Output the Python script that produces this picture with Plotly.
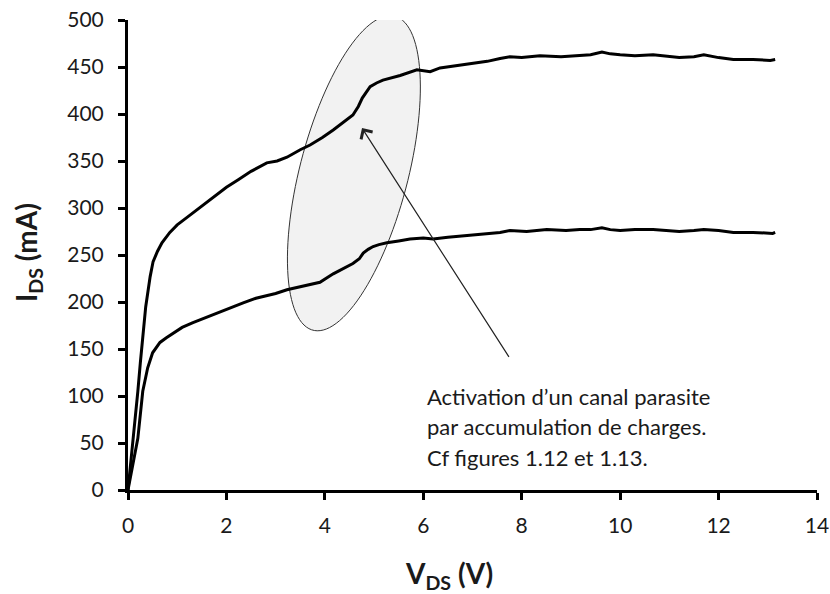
import numpy as np
import plotly.graph_objects as go

# ---- data ----
x_upper = [0, 0.06, 0.11, 0.16, 0.20, 0.25, 0.30, 0.36, 0.45, 0.51, 0.60, 0.69, 0.85, 1.0, 1.2, 1.52,
           1.87, 2.0, 2.24, 2.5, 2.82, 3.03, 3.23, 3.50, 3.70, 3.95, 4.17, 4.40, 4.57, 4.68, 4.76,
           4.92, 5.05, 5.18, 5.53, 5.87, 6.14, 6.34, 6.75, 7.15, 7.30, 7.56, 7.76, 8.0, 8.37, 8.8,
           9.18, 9.4, 9.63, 9.8, 10.0, 10.3, 10.67, 11.0, 11.2, 11.5, 11.7, 12.0, 12.3, 12.7,
           13.05, 13.15]
y_upper = [0, 30, 55, 80, 105, 135, 165, 195, 227, 243, 254, 263, 274, 282, 290, 303,
           317, 322, 330, 339, 348, 350, 354, 362, 367, 375, 383, 392, 399, 408, 417,
           429, 433, 436, 441, 447, 445, 449, 452, 455, 456, 459, 461, 460, 462, 461,
           462, 463, 466, 464, 463, 462, 463, 461, 460, 461, 463, 460, 458, 458,
           457, 458]

x_lower = [0, 0.10, 0.20, 0.30, 0.40, 0.50, 0.65, 0.78, 0.92, 1.1, 1.32, 1.6, 1.87, 2.1, 2.34,
           2.6, 2.82, 3.0, 3.23, 3.50, 3.90, 4.17, 4.40, 4.57, 4.70, 4.78, 4.88, 4.98, 5.1,
           5.26, 5.5, 5.73, 6.0, 6.20, 6.5, 6.75, 7.15, 7.56, 7.76, 8.1, 8.51, 8.9, 9.18, 9.4,
           9.63, 9.8, 10.0, 10.3, 10.67, 11.0, 11.2, 11.5, 11.7, 12.0, 12.3, 12.7, 13.1, 13.15]
y_lower = [0, 28, 55, 105, 130, 146, 157, 162, 167, 173, 178, 184, 189, 194, 199,
           204, 207, 209, 213, 216, 221, 230, 236, 241, 246, 252, 256, 259, 261,
           263, 265, 267, 268, 267, 269, 270, 272, 274, 276, 275, 277, 276, 277, 277,
           279, 277, 276, 277, 277, 276, 275, 276, 277, 276, 274, 274, 273, 274]

x_ticks = [0, 2, 4, 6, 8, 10, 12, 14]
y_ticks = [0, 50, 100, 150, 200, 250, 300, 350, 400, 450, 500]

note_lines = ["Activation d\u2019un canal parasite",
              "par accumulation de charges.",
              "Cf figures 1.12 et 1.13."]

x_title = "<b>V<sub>DS</sub> (V)</b>"
y_title = "<b>I<sub>DS</sub> (mA)</b>"

# ---- layout geometry ----
W, H = 830, 594
ML, MR, MT, MB = 128, 13, 20, 104
XR = [0, 14]
YR = [0, 500]
pw, ph = W - ML - MR, H - MT - MB
sx = pw / (XR[1] - XR[0])   # px per V
sy = ph / (YR[1] - YR[0])   # px per mA


def px_to_paper(px, py):
    return (px - ML) / pw, (H - MB - py) / ph


FONT = "Lato"
TXT = "#1a1a1a"

fig = go.Figure()

line_style = dict(color="black", width=3)
fig.add_trace(go.Scatter(x=x_upper, y=y_upper, mode="lines", line=line_style, showlegend=False))
fig.add_trace(go.Scatter(x=x_lower, y=y_lower, mode="lines", line=line_style, showlegend=False))

# ellipse highlighting the region (built in pixel space, converted to data units)
cx, cy = 4.59, 337.0          # centre in data units
a_px, b_px = 162.0, 54.0      # semi-axes in pixels
ux, uy = 0.253, 0.969         # major axis direction (screen, y up)
vx, vy = 0.969, -0.253
t = np.linspace(0, 2 * np.pi, 120)
ex = cx + (a_px * np.cos(t) * ux + b_px * np.sin(t) * vx) / sx
ey = cy + (a_px * np.cos(t) * uy + b_px * np.sin(t) * vy) / sy
path = "M " + " L ".join(f"{xx:.4f},{yy:.3f}" for xx, yy in zip(ex, ey)) + " Z"
fig.add_shape(type="path", path=path, xref="x", yref="y", layer="below",
              fillcolor="#f2f2f2", line=dict(color="#333333", width=1))

# arrow
fig.add_annotation(x=4.755, y=385, ax=7.76, ay=140, xref="x", yref="y", axref="x", ayref="y",
                   text="", showarrow=True, arrowhead=4, arrowsize=2.2, arrowwidth=1.2,
                   arrowcolor="#222222", standoff=0)

# note text lines
for i, s in enumerate(note_lines):
    px_, py_ = px_to_paper(425, 396 + 30.5 * i)
    fig.add_annotation(x=px_, y=py_, xref="paper", yref="paper",
                       text=s, showarrow=False, xanchor="left", yanchor="middle",
                       font=dict(family=FONT, size=22, color=TXT))

# axis titles placed as in the reference
tx, ty = px_to_paper(449, 575)
fig.add_annotation(x=tx, y=ty, xref="paper", yref="paper", text=x_title,
                   showarrow=False, xanchor="center", yanchor="middle",
                   font=dict(family=FONT, size=28, color=TXT))
tx, ty = px_to_paper(28, 253)
fig.add_annotation(x=tx, y=ty, xref="paper", yref="paper",
                   text=y_title, textangle=-90, showarrow=False, xanchor="center",
                   yanchor="middle", font=dict(family=FONT, size=28, color=TXT))

axis_common = dict(showline=True, linecolor="black", linewidth=3, ticks="outside",
                   ticklen=7, tickwidth=3, tickcolor="black", showgrid=False, zeroline=False,
                   automargin=False,
                   tickfont=dict(family=FONT, size=21, color=TXT))

fig.update_layout(
    width=W, height=H,
    margin=dict(l=ML, r=MR, t=MT, b=MB, autoexpand=False),
    paper_bgcolor="white", plot_bgcolor="white",
    xaxis=dict(range=XR, tickvals=x_ticks, ticktext=[str(v) for v in x_ticks],
               ticklabelstandoff=8, **axis_common),
    yaxis=dict(range=YR, tickvals=y_ticks, ticktext=[str(v) for v in y_ticks],
               ticklabelstandoff=10, **axis_common),
)

fig.write_html("out.html", config={"displayModeBar": False},
               post_script="document.body.style.margin='0';")
